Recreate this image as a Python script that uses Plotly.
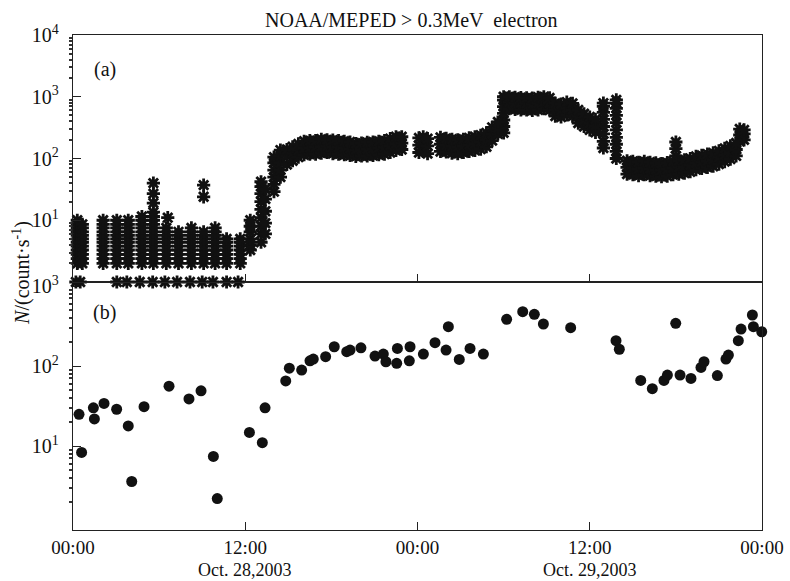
import plotly.graph_objects as go

# ---------------- Panel (a): >0.3 MeV electron counts (asterisks) ----------------
# low-count columns (hours since 00:00 Oct 28) and the highest level in each column
a_col_t = [0.3, 0.65, 2.1, 3.05, 3.85, 4.8, 5.6, 6.5, 7.35, 8.25, 9.1, 9.9, 10.7, 11.65]
a_col_top = [11, 9, 10, 10.5, 10, 12, 13.5, 7.5, 6.5, 7.5, 6.5, 7.8, 5.4, 5.4]
a_levels = [2, 2.4, 2.8, 3.3, 3.8, 4.4, 5, 5.7, 6.5, 7.5, 8.6, 10, 11.5, 13.5]

# points sitting at 1 count/s (bottom row)
a_one_t = [0.2, 0.5, 3.05, 3.75, 4.65, 5.55, 6.4, 7.25, 8.15, 9.0, 9.75, 10.7, 11.5]
a_one_v = [1, 1, 1, 1, 1, 1, 1, 1, 1, 1, 1, 1, 1]

# isolated spikes
a_out_t = [5.6, 5.6, 5.6, 6.6, 9.1, 9.1, 42.0, 42.0, 42.0]
a_out_v = [19, 27, 40, 11, 24, 37, 110, 145, 185]

# steep vertical columns
a_rise_t = [12.35] * 6 + [13.1] * 9 + [13.4] * 5 + [14.0] * 6 + [14.45] * 5 \
    + [30.0] * 7 + [36.95] * 8 + [37.85] * 10 + [46.45] * 3 + [46.75] * 3
a_rise_v = [3.3, 4, 5, 6.5, 8, 10,
            4.4, 6, 8, 11, 15, 20, 27, 35, 42,
            6, 9, 14, 22, 32,
            29, 38, 50, 65, 85, 105,
            50, 65, 85, 110, 137,
            260, 330, 420, 540, 690, 880, 1000,
            148, 190, 250, 330, 430, 560, 700, 790,
            100, 130, 170, 220, 290, 380, 500, 650, 790, 890,
            190, 240, 300,
            200, 250, 290]

# continuous band: time, lower edge, middle, upper edge
a_band_t = [14.9, 15.3, 15.7, 16.1, 16.5, 16.9, 17.3, 17.7, 18.1, 18.5, 18.9, 19.3, 19.7,
            20.1, 20.5, 20.9, 21.3, 21.7, 22.1, 22.5, 22.9,
            24.1, 24.4, 24.7,
            25.6, 26.0, 26.4, 26.8, 27.2, 27.6, 28.0, 28.4, 28.8, 29.2, 29.6,
            30.4, 30.8, 31.2, 31.6, 32.0, 32.4, 32.8, 33.2, 33.6, 34.0, 34.4, 34.8, 35.2,
            35.6, 36.0, 36.4,
            38.6, 39.0, 39.4, 39.8, 40.2, 40.6, 41.0, 41.4, 41.8, 42.2, 42.6, 43.0, 43.4,
            43.8, 44.2, 44.6, 45.0, 45.4, 45.8, 46.2]
a_band_mid = [110, 122, 135, 148, 150, 152, 156, 158, 155, 152, 150, 145, 137,
              140, 142, 145, 148, 152, 162, 175, 178,
              165, 175, 160,
              170, 165, 158, 155, 160, 168, 175, 185, 200, 250, 310,
              820, 800, 790, 780, 770, 790, 820, 780, 620, 600, 650, 620, 480,
              420, 370, 340,
              72, 70, 68, 70, 68, 66, 65, 67, 70, 72, 74, 78, 84,
              88, 92, 96, 104, 114, 125, 140]
a_band_lo = [80, 92, 105, 115, 118, 118, 122, 125, 120, 118, 115, 112, 108,
             110, 110, 112, 115, 118, 125, 135, 140,
             125, 130, 120,
             130, 128, 122, 120, 125, 130, 135, 142, 155, 195, 250,
             640, 625, 615, 610, 600, 615, 640, 610, 485, 470, 510, 485, 375,
             330, 290, 265,
             56, 55, 53, 55, 53, 52, 51, 52, 55, 56, 58, 61, 66,
             69, 72, 75, 81, 89, 98, 110]
a_band_hi = [140, 155, 172, 190, 195, 195, 205, 200, 198, 195, 190, 185, 175,
             178, 182, 185, 190, 195, 210, 225, 225,
             215, 225, 210,
             220, 212, 205, 200, 205, 215, 225, 238, 260, 320, 390,
             1000, 980, 970, 960, 950, 980, 1000, 960, 780, 760, 820, 780, 610,
             530, 470, 430,
             92, 90, 87, 90, 87, 85, 83, 86, 90, 92, 95, 100, 108,
             112, 118, 123, 133, 146, 160, 178]

# ---------------- Panel (b): dots ----------------
b_t = [0.42, 0.6, 1.42, 1.49, 2.16, 3.04, 3.85, 4.09, 4.95, 6.69, 8.08, 8.92, 9.78, 10.05,
       12.29, 13.19, 13.38, 14.82, 15.07, 15.93, 16.51, 16.74, 17.6, 18.2, 19.07, 19.3,
       20.06, 21.04, 21.62, 21.8, 22.6, 22.55, 23.48, 23.43, 24.41, 25.22, 25.99, 26.15,
       26.91, 27.66, 28.59, 30.21, 31.33, 32.14, 32.77, 34.67, 37.83, 38.06, 39.55, 40.36,
       41.17, 41.41, 41.99, 42.29, 43.05, 43.75, 43.96, 44.89, 45.49, 45.66, 46.35, 46.54,
       47.33, 47.4, 47.98]
b_v = [24.9, 8.3, 30, 21.8, 34, 28.8, 17.8, 3.6, 31, 56, 38.7, 49, 7.4, 2.2,
       14.8, 11, 30, 65, 94, 89, 116, 122, 131, 174, 151, 158,
       169, 133, 141, 113, 166, 108, 174, 116, 141, 196, 158, 310,
       121, 166, 141, 383, 477, 443, 335, 301, 207, 162, 66, 52,
       66, 77, 342, 77, 70, 96, 113, 76, 122, 137, 207, 290,
       434, 310, 268]

x_tickvals = [0, 12, 24, 36, 48]
x_ticktext = ["00:00", "12:00", "00:00", "12:00", "00:00"]
date_pos = [12, 36]
date_text = ["Oct. 28,2003", "Oct. 29,2003"]

# ---------------- assemble panel (a) points ----------------
ax_t, ax_v = [], []
for t, top in zip(a_col_t, a_col_top):
    for lv in a_levels:
        if lv <= top * 1.02:
            ax_t.append(t)
            ax_v.append(lv)
ax_t += a_one_t + a_out_t + a_rise_t
ax_v += a_one_v + a_out_v + a_rise_v
for t, lo, mid, hi in zip(a_band_t, a_band_lo, a_band_mid, a_band_hi):
    ax_t += [t, t, t]
    ax_v += [lo, mid, hi]

FONT = "Liberation Serif"
INK = "#111111"

fig = go.Figure()
fig.add_trace(go.Scatter(
    x=ax_t, y=ax_v, mode="markers", xaxis="x2", yaxis="y",
    marker=dict(symbol="asterisk-open", size=11, color=INK, line=dict(width=2.8, color=INK)),
    cliponaxis=False, showlegend=False, hoverinfo="skip"))
fig.add_trace(go.Scatter(
    x=b_t, y=b_v, mode="markers", xaxis="x", yaxis="y2",
    marker=dict(symbol="circle", size=11, color=INK, line=dict(width=0)),
    cliponaxis=False, showlegend=False, hoverinfo="skip"))

axis_common = dict(showline=True, linecolor="#222", linewidth=1.4, mirror=True,
                   showgrid=False, zeroline=False, automargin=False,
                   tickfont=dict(family=FONT, size=20, color=INK))

minor_vals = [m * 10 ** e for e in range(-1, 4) for m in range(2, 10)]

annotations = [
    dict(text="NOAA/MEPED &gt; 0.3MeV  electron", xref="paper", yref="paper",
         x=0.492, y=1.03, xanchor="center", yanchor="middle", showarrow=False,
         font=dict(family=FONT, size=20, color=INK)),
    dict(text="(a)", xref="paper", yref="paper", x=0.0464, y=0.931,
         xanchor="center", yanchor="middle", showarrow=False,
         font=dict(family=FONT, size=20, color=INK)),
    dict(text="(b)", xref="paper", yref="paper", x=0.0464, y=0.440,
         xanchor="center", yanchor="middle", showarrow=False,
         font=dict(family=FONT, size=20, color=INK)),
    dict(text="<i>N</i>/(count·s<sup>-1</sup>)", xref="paper", yref="paper",
         x=-0.075, y=0.52, xanchor="center", yanchor="middle", textangle=-90,
         showarrow=False, font=dict(family=FONT, size=20, color=INK)),
]
for xp, txt in zip(date_pos, date_text):
    annotations.append(dict(text=txt, xref="x", yref="paper", x=xp, y=-0.0808,
                            xanchor="center", yanchor="middle", showarrow=False,
                            font=dict(family=FONT, size=18, color=INK)))

fig.update_layout(
    width=790, height=581,
    margin=dict(l=73, r=28, t=35, b=51),
    paper_bgcolor="white", plot_bgcolor="white",
    font=dict(family=FONT, color=INK),
    xaxis=dict(**{**axis_common, "tickfont": dict(family=FONT, size=19, color=INK)},
               domain=[0, 1], anchor="y2", range=[0, 48],
               tickmode="array", tickvals=x_tickvals, ticktext=x_ticktext,
               ticks="inside", ticklen=8, tickcolor="#222", tickwidth=1.2),
    xaxis2=dict(**axis_common, domain=[0, 1], anchor="y", range=[0, 48], matches="x",
                tickmode="array", tickvals=x_tickvals, showticklabels=False,
                ticks="inside", ticklen=8, tickcolor="#222", tickwidth=1.2),
    yaxis=dict(**axis_common, domain=[0.501, 1], anchor="x2", type="log", range=[0, 4],
               tickmode="array", tickvals=[10, 100, 1000, 10000],
               ticktext=["10<sup>1</sup>", "10<sup>2</sup>", "10<sup>3</sup>", "10<sup>4</sup>"],
               ticks="inside", ticklen=8, tickcolor="#222", tickwidth=1.2,
               ticklabelstandoff=9,
               minor=dict(tickvals=minor_vals, ticks="outside", ticklen=3,
                          tickcolor="#333", tickwidth=1.5)),
    yaxis2=dict(**axis_common, domain=[0, 0.501], anchor="x", type="log", range=[-0.05, 3.05],
                tickmode="array", tickvals=[10, 100, 1000],
                ticktext=["10<sup>1</sup>", "10<sup>2</sup>", "10<sup>3</sup>"],
                ticks="inside", ticklen=8, tickcolor="#222", tickwidth=1.2,
                ticklabelstandoff=9,
                minor=dict(tickvals=minor_vals, ticks="outside", ticklen=3,
                           tickcolor="#333", tickwidth=1.5)),
    annotations=annotations,
)

fig.write_html("out.html")
